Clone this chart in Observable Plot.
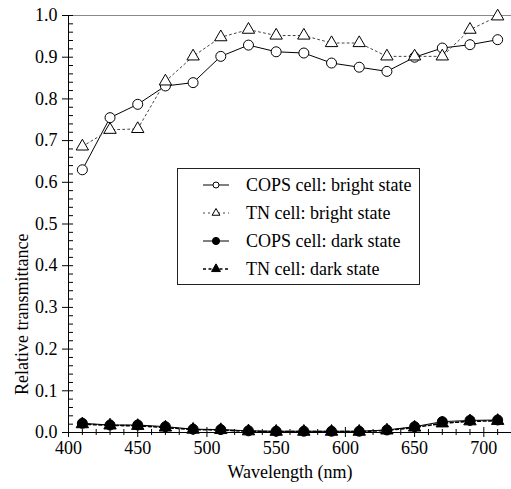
<!DOCTYPE html>
<html><head><meta charset="utf-8">
<script src="https://cdn.jsdelivr.net/npm/d3@7"></script>
<script src="https://cdn.jsdelivr.net/npm/@observablehq/plot@0.6"></script>
<style>body{margin:0;background:#fff}#chart{width:511px;height:489px}
#chart svg, #chart svg text{font-family:"Liberation Serif","Times New Roman",Times,"Tinos","Nimbus Roman","Nimbus Roman No9 L","FreeSerif","Noto Serif","DejaVu Serif",serif !important;}</style>
</head><body><div id="chart"></div>
<script>
const wavelengths = [410,430,450,470,490,510,530,550,570,590,610,630,650,670,690,710];
const copsBright = [0.630,0.755,0.787,0.831,0.839,0.902,0.929,0.913,0.910,0.886,0.876,0.866,0.900,0.922,0.930,0.942];
const tnBright   = [0.686,0.726,0.728,0.842,0.902,0.948,0.966,0.952,0.952,0.934,0.934,0.902,0.902,0.902,0.966,0.998];
const copsDark   = [0.022,0.018,0.018,0.014,0.008,0.007,0.004,0.003,0.003,0.003,0.003,0.006,0.014,0.026,0.029,0.030];
const tnDark     = [0.020,0.017,0.016,0.012,0.007,0.006,0.003,0.002,0.002,0.002,0.002,0.005,0.012,0.022,0.027,0.028];
const seriesNames = ["COPS cell: bright state","TN cell: bright state","COPS cell: dark state","TN cell: dark state"];
const xTicks = [400,450,500,550,600,650,700];
const xMinorTicks = [410,420,430,440,460,470,480,490,510,520,530,540,560,570,580,590,610,620,630,640,660,670,680,690,710,720];
const yTicks = [0,0.1,0.2,0.3,0.4,0.5,0.6,0.7,0.8,0.9,1.0];
const yMinorTicks = [0.02,0.04,0.06,0.08,0.12,0.14,0.16,0.18,0.22,0.24,0.26,0.28,0.32,0.34,0.36,0.38,0.42,0.44,0.46,0.48,0.52,0.54,0.56,0.58,0.62,0.64,0.66,0.68,0.72,0.74,0.76,0.78,0.82,0.84,0.86,0.88,0.92,0.94,0.96,0.98];
const xLabel = "Wavelength (nm)";
const yLabel = "Relative transmittance";

const styles = [
  {symbol:"circle", r:5, fill:"white", dash:null, sw:1, stroke:"#000", legR:3},
  {symbol:"triangle", r:4.6, fill:"white", dash:"2,3", sw:1, stroke:"#444", legR:2.9},
  {symbol:"circle", r:5, fill:"black", dash:null, sw:1, stroke:"#000", legR:3.6},
  {symbol:"triangle", r:4.6, fill:"black", dash:"3,2.5", sw:1.6, stroke:"#000", legR:3.3}
];
const allValues = [copsBright, tnBright, copsDark, tnDark];
const tables = allValues.map((vals,k)=>wavelengths.map((w,i)=>({x:w, y:vals[i], series:seriesNames[k]})));

const font = "Liberation Serif, Times New Roman, serif";
const marks = [
  Plot.ruleY([1], {stroke:"#888"}),
  Plot.ruleY([0], {stroke:"#000"}),
  Plot.ruleX([400], {stroke:"#000"}),
  Plot.axisY(yTicks, {tickSize:6, tickPadding:5, tickFormat:d3.format(".1f"), label:null, fontSize:18, fill:"#000"}),
  Plot.axisY(yTicks, {tickSize:5, dx:5, text:null, label:null}),
  Plot.axisY(yMinorTicks, {tickSize:5, dx:5, text:null, label:null}),
  Plot.axisX(xTicks, {tickSize:5, tickPadding:4, label:null, fontSize:18, fill:"#000"}),
  Plot.axisX(xTicks, {tickSize:5, dy:-5, text:null, label:null}),
  Plot.axisX(xMinorTicks, {tickSize:3, text:null, label:null}),
  Plot.axisX(xMinorTicks, {tickSize:3, dy:-3, text:null, label:null}),
  Plot.text([xLabel], {frameAnchor:"bottom", dy:45, fontSize:18, fill:"#000"})
];
tables.forEach((t,k)=>{
  const s = styles[k];
  marks.push(Plot.line(t, {x:"x", y:"y", stroke:s.stroke, strokeWidth:s.sw, strokeDasharray:s.dash}));
});
tables.forEach((t,k)=>{
  const s = styles[k];
  marks.push(Plot.dot(t, {x:"x", y:"y", symbol:()=>s.symbol, r:s.r, fill:s.fill, stroke:"#000", strokeWidth:1}));
});

const plot = Plot.plot({
  width:511, height:489,
  marginLeft:68, marginRight:0, marginTop:15, marginBottom:57,
  style:{fontFamily:font, fontSize:"18px", color:"#000", background:"#fff"},
  x:{domain:[400,720], axis:null},
  y:{domain:[0,1], axis:null},
  symbol:{type:"identity"},
  marks
});
document.getElementById("chart").appendChild(plot);

const svg = d3.select(plot);
svg.append("text").attr("transform","translate(28,395) rotate(-90)")
  .attr("text-anchor","start").attr("font-size",18).attr("fill","#000").text(yLabel);

const lg = svg.append("g").attr("font-size", 18).attr("text-anchor","start");
lg.append("rect").attr("x",177.5).attr("y",168.5).attr("width",242).attr("height",116)
  .attr("fill","white").attr("stroke","#222").attr("stroke-width",1);
seriesNames.forEach((name,k)=>{
  const s = styles[k];
  const cy = 185 + 28*k;
  lg.append("line").attr("x1",203).attr("x2",229).attr("y1",cy).attr("y2",cy)
    .attr("stroke",s.stroke).attr("stroke-width",s.sw).attr("stroke-dasharray",s.dash);
  const sym = s.symbol==="circle" ? d3.symbolCircle : d3.symbolTriangle;
  lg.append("path").attr("d", d3.symbol(sym, Math.PI*s.legR*s.legR)())
    .attr("transform",`translate(216,${cy})`).attr("fill",s.fill).attr("stroke","#000");
  lg.append("text").attr("x",246).attr("y",cy).attr("dy","0.35em").attr("fill","#000").text(name);
});
</script></body></html>
